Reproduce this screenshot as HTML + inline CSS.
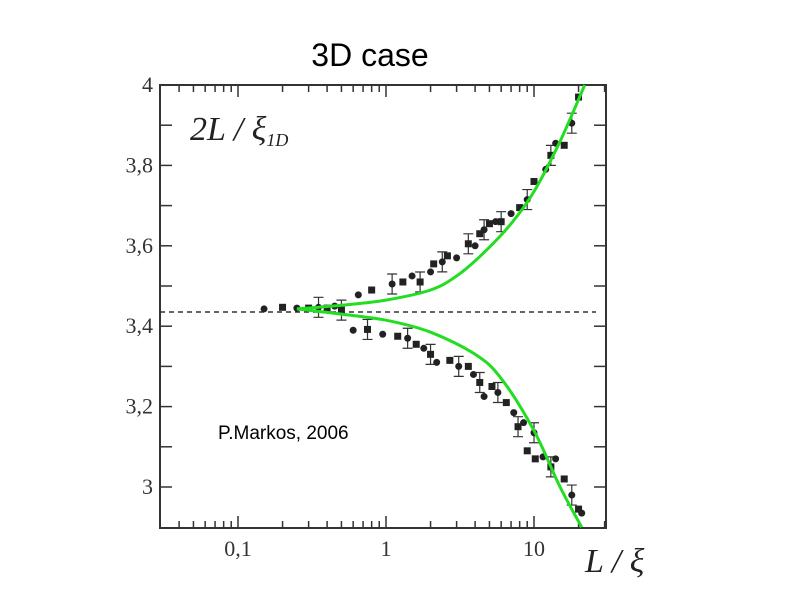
<!DOCTYPE html>
<html><head><meta charset="utf-8">
<style>
body{margin:0;background:#fff;}
svg{display:block;}
</style></head>
<body>
<svg id="chart" width="800" height="600" xmlns="http://www.w3.org/2000/svg">
<text x="370" y="66" text-anchor="middle" font-family="Liberation Sans, sans-serif" font-size="32" fill="#000">3D case</text>
<rect x="160" y="85" width="446" height="443" fill="none" stroke="#333" stroke-width="2"/>
<g id="ticks"></g>
<g id="labels" font-family="Liberation Serif, serif" font-size="22" fill="#333"></g>
<line x1="160" x2="596" y1="312" y2="312" stroke="#333" stroke-width="1.5" stroke-dasharray="5,4"/>
<g id="pts"></g>
<g id="curves"></g>
<text x="190" y="140" font-family="Liberation Serif, serif" font-style="italic" font-size="34" fill="#222">2<tspan>L</tspan> / ξ<tspan font-size="18" dy="6">1D</tspan></text>
<text x="585" y="572" font-family="Liberation Serif, serif" font-style="italic" font-size="34" fill="#222">L / ξ</text>
<text x="218" y="439" font-family="Liberation Sans, sans-serif" font-size="19" fill="#000">P.Markos, 2006</text>
</svg>
<script>
const xTicks=[0.1,1,10];
const xTickLabels=["0,1","1","10"];
const yTicks=[3,3.2,3.4,3.6,3.8,4];
const yTickLabels=["3","3,2","3,4","3,6","3,8","4"];
const upperX=[0.15,0.2,0.25,0.3,0.35,0.4,0.45,0.5,0.65,0.8,1.1,1.3,1.5,1.7,2,2.1,2.4,2.6,3,3.6,4,4.3,4.6,5,5.5,6,7,8,9,10,12,13,14,16,18,20];
const upperY=[3.443,3.447,3.445,3.445,3.447,3.445,3.45,3.44,3.478,3.49,3.505,3.51,3.525,3.51,3.535,3.555,3.56,3.575,3.57,3.605,3.6,3.63,3.64,3.655,3.66,3.66,3.68,3.695,3.715,3.76,3.79,3.825,3.855,3.85,3.905,3.97];
const lowerX=[0.6,0.75,0.95,1.2,1.4,1.6,1.8,2.0,2.2,2.7,3.1,3.6,3.9,4.3,4.6,5.2,5.7,6.5,7.3,7.8,8.5,9,10,10.2,11.5,13,14,16,18,20,21];
const lowerY=[3.39,3.392,3.38,3.375,3.37,3.355,3.345,3.33,3.31,3.315,3.3,3.3,3.28,3.26,3.225,3.25,3.235,3.21,3.185,3.15,3.16,3.09,3.135,3.07,3.075,3.05,3.07,3.02,2.98,2.945,2.935];
const fitUpX=[0.25,0.5,1,2,3,4.5,7,10,15,22];
const fitUpY=[3.443,3.452,3.465,3.49,3.525,3.58,3.655,3.735,3.86,4.0];
const fitLoX=[0.25,0.5,1,2,4,6,10,15,21];
const fitLoY=[3.443,3.43,3.415,3.385,3.33,3.27,3.14,3.0,2.9];
const NS="http://www.w3.org/2000/svg";
function sx(v){return 386+148*Math.log10(v);}
function sy(v){return 85+(4-v)*402;}
function mk(t,a,p){const e=document.createElementNS(NS,t);for(const k in a)e.setAttribute(k,a[k]);p.appendChild(e);return e;}
const tg=document.getElementById('ticks'),lg=document.getElementById('labels');
for(let d=-2;d<=1;d++){for(let m=1;m<=9;m++){const v=m*Math.pow(10,d);const x=sx(v);if(x<161||x>605)continue;const len=m==1?12:7;
const a=mk('line',{x1:x,x2:x,y1:528,y2:528-len,stroke:'#333','stroke-width':1.5},tg);

const b=mk('line',{x1:x,x2:x,y1:85,y2:85+len,stroke:'#333','stroke-width':1.5},tg);
}}
for(let i=0;i<=11;i++){const v=2.9+i*0.1;const y=sy(v);if(y<86||y>527)continue;
const a=mk('line',{x1:160,x2:172,y1:y,y2:y,stroke:'#333','stroke-width':1.5},tg);

const b=mk('line',{x1:606,x2:594,y1:y,y2:y,stroke:'#333','stroke-width':1.5},tg);
}
xTicks.forEach((v,i)=>{const t=mk('text',{x:sx(v),y:556,'text-anchor':'middle'},lg);t.textContent=xTickLabels[i];
});
yTicks.forEach((v,i)=>{const t=mk('text',{x:153,y:sy(v)+7,'text-anchor':'end'},lg);t.textContent=yTickLabels[i];
});
const pg=document.getElementById('pts');
function pts(X,Y){X.forEach((x,i)=>{const cx=sx(x),cy=sy(Y[i]);
if(i%3==1&&x>0.3){const eb=mk('path',{d:`M${cx},${cy-10}V${cy+10}M${cx-5},${cy-10}H${cx+5}M${cx-5},${cy+10}H${cx+5}`,stroke:'#333','stroke-width':1.2,fill:'none'},pg);
}
const c=(i%2==0)?mk('circle',{cx:cx,cy:cy,r:3.5,fill:'#222'},pg):mk('rect',{x:cx-3.5,y:cy-3.5,width:7,height:7,fill:'#222'},pg);
});}
pts(upperX,upperY);pts(lowerX,lowerY);
const cg=document.getElementById('curves');
function curve(X,Y,name){const P=X.map((x,i)=>[sx(x),sy(Y[i])]);
let d='M'+P[0][0].toFixed(1)+','+P[0][1].toFixed(1);
for(let i=0;i<P.length-1;i++){const p0=P[Math.max(0,i-1)],p1=P[i],p2=P[i+1],p3=P[Math.min(P.length-1,i+2)];
const c1=[p1[0]+(p2[0]-p0[0])/6,p1[1]+(p2[1]-p0[1])/6],c2=[p2[0]-(p3[0]-p1[0])/6,p2[1]-(p3[1]-p1[1])/6];
d+=`C${c1[0].toFixed(1)},${c1[1].toFixed(1)} ${c2[0].toFixed(1)},${c2[1].toFixed(1)} ${p2[0].toFixed(1)},${p2[1].toFixed(1)}`;}
const p=mk('path',{d:d,fill:'none',stroke:'#22dd22','stroke-width':3,'stroke-linejoin':'round'},cg);
}
curve(fitUpX,fitUpY,'upper-fit-curve');curve(fitLoX,fitLoY,'lower-fit-curve');
</script>
</body></html>
